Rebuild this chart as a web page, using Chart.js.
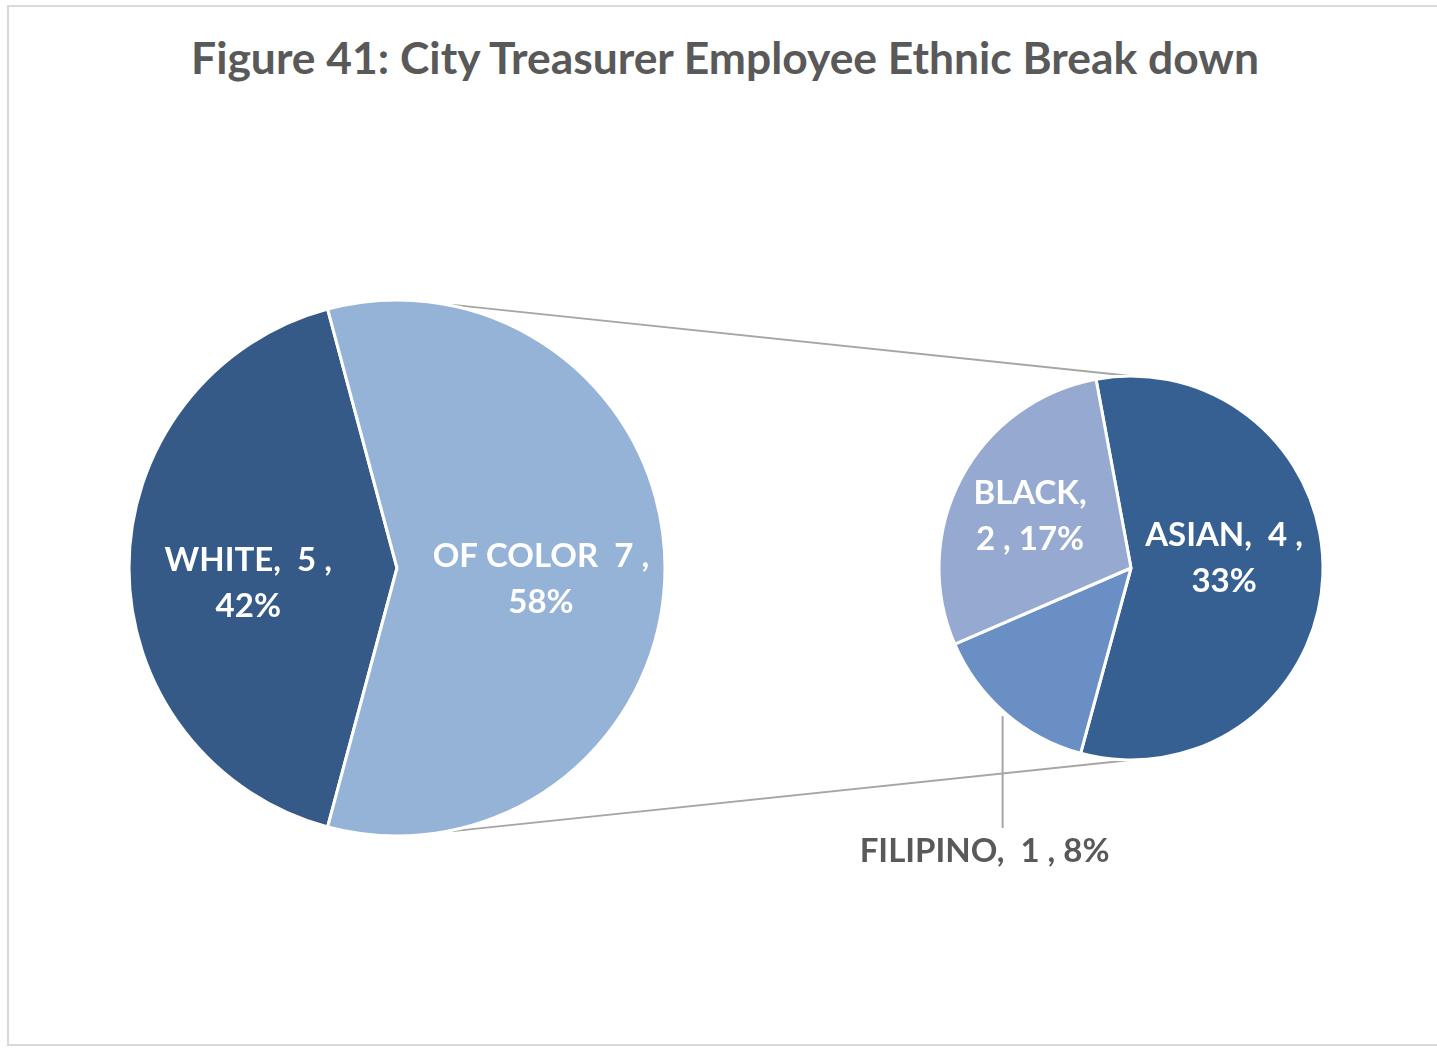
<!DOCTYPE html>
<html>
<head>
<meta charset="utf-8">
<script src="https://cdn.jsdelivr.net/npm/chart.js@4.4.1/dist/chart.umd.min.js"></script>
<style>
  html, body { margin: 0; padding: 0; background: #ffffff; }
  #frame { position: relative; width: 1437px; height: 1049px; overflow: hidden; font-family: Lato, "Open Sans", sans-serif; }
  #border { position: absolute; left: 7px; top: 5px; width: 1460px; height: 1041px; border: 2px solid #d9d9d9; box-sizing: border-box; }
  #title { position: absolute; left: 0; width: 1450px; top: 34px; line-height: 46px; text-align: center; font-weight: 700; font-size: 44.4px; color: #595959; white-space: nowrap; }
  canvas { position: absolute; }
</style>
</head>
<body>
<div id="frame">
  <div id="border"></div>
  <div id="title">Figure 41: City Treasurer Employee Ethnic Break down</div>
  <canvas id="links" width="1437" height="1049" style="left:0;top:0"></canvas>
  <canvas id="mainPie" width="560" height="560" style="left:117px;top:288px"></canvas>
  <canvas id="subPie" width="600" height="640" style="left:831px;top:248px"></canvas>
</div>
<script>
// Head-count by group
const mainNames = ['WHITE', 'OF COLOR'];
const mainValues = [5, 7];
const subNames = ['ASIAN', 'FILIPINO', 'BLACK'];
const subValues = [4, 1, 2];

const mainColors = ['#355a87', '#95b3d7'];
const subColors = ['#366092', '#6a8fc5', '#95a9d1'];

const total = mainValues.reduce((a, b) => a + b, 0);
const pct = v => Math.round(100 * v / total) + '%';

// Text lines for each slice label
const mainText = [
  [`${mainNames[0]},  ${mainValues[0]} ,`, pct(mainValues[0])],
  [`${mainNames[1]}  ${mainValues[1]} ,`, pct(mainValues[1])]
];
const subText = [
  [`${subNames[0]},  ${subValues[0]} ,`, pct(subValues[0])],
  [`${subNames[1]},  ${subValues[1]} , ${pct(subValues[1])}`],
  [`${subNames[2]},`, `${subValues[2]} , ${pct(subValues[2])}`]
];

const FONT = 'bold 33px Lato, "Open Sans", sans-serif';
const LINE_H = 46;

// Draws the data labels inside (or below, with a leader) each slice
const sliceLabels = {
  id: 'sliceLabels',
  afterDatasetsDraw(chart, args, opts) {
    const ctx = chart.ctx;
    const arcs = chart.getDatasetMeta(0).data;
    ctx.save();
    ctx.font = FONT;
    ctx.textAlign = 'center';
    ctx.textBaseline = 'middle';
    arcs.forEach((arc, i) => {
      const cfg = opts.items[i];
      const lines = opts.texts[i];
      const mid = (arc.startAngle + arc.endAngle) / 2;
      if (cfg.leader) {
        const ex = arc.x + Math.cos(mid) * (arc.outerRadius + 4);
        const ey = arc.y + Math.sin(mid) * (arc.outerRadius + 4);
        ctx.strokeStyle = '#a6a6a6';
        ctx.lineWidth = 2;
        ctx.beginPath();
        ctx.moveTo(ex, ey);
        ctx.lineTo(ex, ey + cfg.leader);
        ctx.stroke();
        ctx.fillStyle = '#595959';
        ctx.fillText(lines[0], ex + cfg.dx, ey + cfg.leader + cfg.dy);
        return;
      }
      const ax = arc.x + Math.cos(mid) * arc.outerRadius * cfg.frac;
      const ay = arc.y + Math.sin(mid) * arc.outerRadius * cfg.frac + cfg.dy;
      ctx.fillStyle = '#ffffff';
      const top = ay - (lines.length - 1) * LINE_H / 2;
      lines.forEach((t, k) => ctx.fillText(t, ax, top + k * LINE_H));
    });
    ctx.restore();
  }
};

function pieConfig(names, values, colors, radius, rotation, labelOpts) {
  return {
    type: 'pie',
    data: {
      labels: names,
      datasets: [{
        data: values,
        backgroundColor: colors,
        borderColor: '#ffffff',
        borderWidth: 3,
        radius: radius
      }]
    },
    options: {
      responsive: false,
      animation: false,
      events: [],
      rotation: rotation,
      layout: { padding: 0 },
      plugins: {
        legend: { display: false },
        tooltip: { enabled: false },
        title: { display: false },
        sliceLabels: labelOpts
      }
    },
    plugins: [sliceLabels]
  };
}

const mainChart = new Chart(document.getElementById('mainPie'), pieConfig(
  mainNames, mainValues, mainColors, 268, 195,
  { texts: mainText, items: [ { frac: 0.555, dy: 15 }, { frac: 0.537, dy: 11 } ] }
));

const subChart = new Chart(document.getElementById('subPie'), pieConfig(
  subNames, subValues, subColors, 192, -10.5,
  { texts: subText, items: [ { frac: 0.485, dy: -13 }, { leader: 112, dx: -18, dy: 23 }, { frac: 0.596, dy: 2 } ] }
));

// Connector lines between the two pies
(function drawLinks() {
  const ctx = document.getElementById('links').getContext('2d');
  const mCanvas = mainChart.canvas, sCanvas = subChart.canvas;
  const m = mainChart.getDatasetMeta(0).data[0];
  const s = subChart.getDatasetMeta(0).data[0];
  const mx = mCanvas.offsetLeft + m.x, my = mCanvas.offsetTop + m.y;
  const sx = sCanvas.offsetLeft + s.x, sy = sCanvas.offsetTop + s.y;
  const mr = m.outerRadius + 1, sr = s.outerRadius;
  const tilt = 12 * Math.PI / 180;
  ctx.strokeStyle = '#a6a6a6';
  ctx.lineWidth = 2;
  ctx.beginPath();
  ctx.moveTo(mx + Math.sin(tilt) * mr, my - Math.cos(tilt) * mr);
  ctx.lineTo(sx, sy - sr);
  ctx.moveTo(mx + Math.sin(tilt) * mr, my + Math.cos(tilt) * mr);
  ctx.lineTo(sx, sy + sr);
  ctx.stroke();
})();
</script>
</body>
</html>
